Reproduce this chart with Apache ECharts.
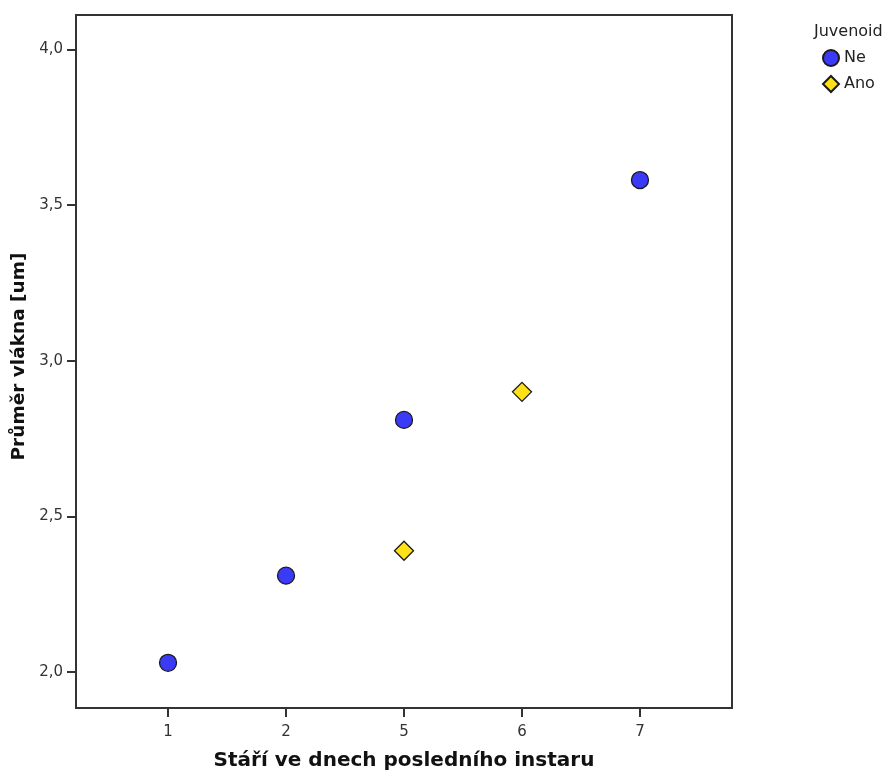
<!DOCTYPE html>
<html>
<head>
<meta charset="utf-8">
<script src="https://cdn.jsdelivr.net/npm/echarts@6/dist/echarts.min.js"></script>
<style>
  html, body { margin: 0; padding: 0; background: #fff; }
  #chart { width: 894px; height: 775px; }
</style>
</head>
<body>
<div id="chart"></div>
<script>
  // kategorie na ose x (stáří ve dnech)
  var days = ['1', '2', '5', '6', '7'];
  var yTicks = [2.0, 2.5, 3.0, 3.5, 4.0];

  // Juvenoid = Ne: [index kategorie, průměr]
  var neIdx = [0, 1, 2, 4];
  var neVal = [2.03, 2.31, 2.81, 3.58];
  // Juvenoid = Ano
  var anoIdx = [2, 3];
  var anoVal = [2.39, 2.90];

  var myChart = echarts.init(document.getElementById('chart'));

  function pairs(xs, ys) {
      return xs.map(function (x, i) { return [x, ys[i]]; });
  }

  var fontFam = 'DejaVu Sans, sans-serif';

  option = {
      animation: false,
      title: {
          text: 'Juvenoid',
          left: 814,
          top: 24,
          padding: 0,
          textStyle: { color: '#222', fontSize: 16, fontWeight: 'normal', fontFamily: fontFam }
      },
      legend: {
          orient: 'vertical',
          left: 822,
          top: 49,
          padding: 0,
          itemGap: 8,
          itemWidth: 16,
          itemHeight: 16,
          data: ['Ne', 'Ano'],
          textStyle: { color: '#222', fontSize: 16, fontFamily: fontFam }
      },
      grid: {
          left: 76,
          top: 15,
          width: 656,
          height: 693,
          outerBoundsMode: 'none',
          containLabel: false,
          show: true,
          borderColor: '#333',
          borderWidth: 2,
          backgroundColor: '#fff'
      },
      xAxis: {
          type: 'value',
          min: -0.78,
          max: 4.78,
          name: 'Stáří ve dnech posledního instaru',
          nameLocation: 'middle',
          nameGap: 43,
          nameTextStyle: { color: '#111', fontSize: 20, fontWeight: 'bold', fontFamily: fontFam },
          splitLine: { show: false },
          axisLine: { show: true, onZero: false, lineStyle: { color: '#333', width: 2 } },
          axisTick: { show: true, length: 9, lineStyle: { color: '#333', width: 2 }, customValues: [0, 1, 2, 3, 4] },
          axisLabel: {
              color: '#333', fontSize: 15, fontFamily: fontFam, margin: 17,
              customValues: [0, 1, 2, 3, 4],
              formatter: function (v) { return days[Math.round(v)]; }
          }
      },
      yAxis: {
          type: 'value',
          min: 1.885,
          max: 4.11,
          name: 'Průměr vlákna [um]',
          nameLocation: 'middle',
          nameGap: 36,
          nameTextStyle: { color: '#111', fontSize: 18.5, fontWeight: 'bold', fontFamily: fontFam, padding: [0, 0, 0, 10] },
          splitLine: { show: false },
          axisLine: { show: true, onZero: false, lineStyle: { color: '#333', width: 2 } },
          axisTick: { show: true, length: 9, lineStyle: { color: '#333', width: 2 }, customValues: yTicks },
          axisLabel: {
              color: '#333', fontSize: 15, fontFamily: fontFam, margin: 13,
              customValues: yTicks,
              formatter: function (v) { return v.toFixed(1).replace('.', ','); }
          }
      },
      series: [
          {
              name: 'Ne',
              type: 'scatter',
              symbol: 'circle',
              symbolSize: 17,
              data: pairs(neIdx, neVal),
              itemStyle: { color: '#3b3bf7', borderColor: '#1a1a1a', borderWidth: 1.3, opacity: 1 }
          },
          {
              name: 'Ano',
              type: 'scatter',
              symbol: 'diamond',
              symbolSize: 19,
              data: pairs(anoIdx, anoVal),
              itemStyle: { color: '#ffe117', borderColor: '#1a1a1a', borderWidth: 1.3, opacity: 1 }
          }
      ]
  };

  myChart.setOption(option);
</script>
</body>
</html>
